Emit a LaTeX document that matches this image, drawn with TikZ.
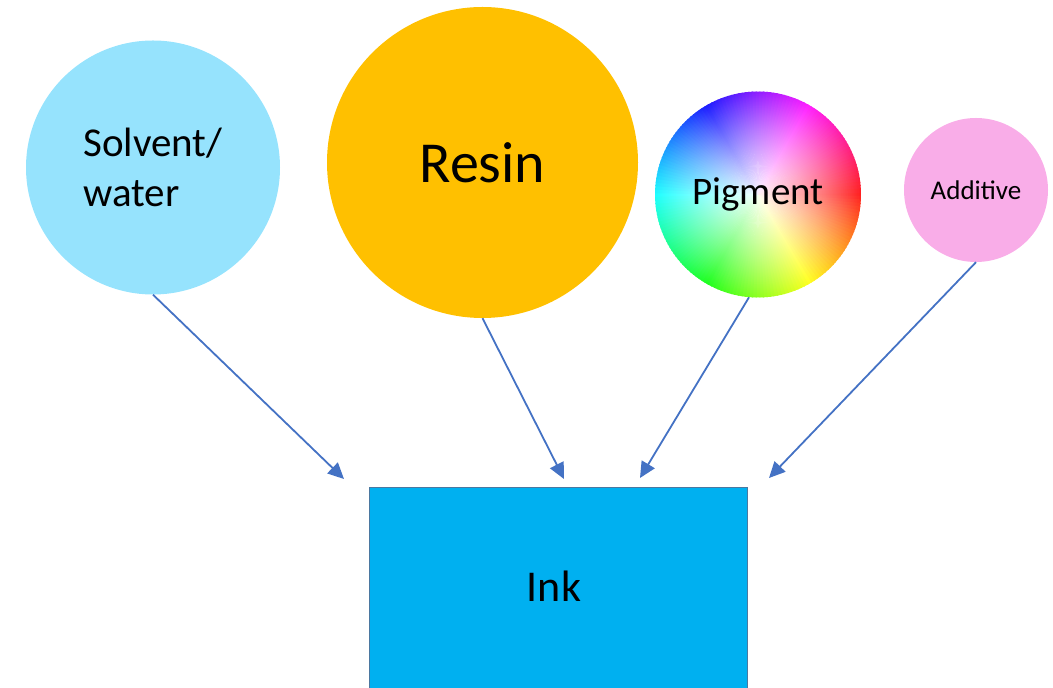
\documentclass[tikz,border=0pt]{standalone}
\usepackage{fontspec}
\setmainfont{Carlito}
\usetikzlibrary{arrows.meta,fadings}
\definecolor{solvc}{RGB}{150,227,253}
\definecolor{resinc}{RGB}{255,192,0}
\definecolor{addc}{RGB}{249,173,232}
\definecolor{inkc}{RGB}{0,176,240}
\definecolor{inkb}{RGB}{75,120,160}
\definecolor{arrc}{RGB}{68,114,196}
\tikzfading[name=pigfade, inner color=transparent!8, outer color=transparent!100]
\tikzset{
  ball/.style={circle, inner sep=0pt, text=black},
  feed/.style={draw=arrc, line width=1.8pt, -{Triangle[length=16pt,width=15pt]}},
}
\begin{document}
\begin{tikzpicture}[x=1pt,y=1pt]
\useasboundingbox (0,0) rectangle (1053,688);
% pigment colour wheel
\coordinate (pc) at (758,493.5);
\foreach \a in {0,2,...,358}{
  \definecolor{wc}{Hsb}{\a,1,1}
  \fill[wc] (pc) -- ++({-\a+1.3}:103) arc[start angle={-\a+1.3}, end angle={-\a-1.3}, radius=103] -- cycle;
}
\fill[white, path fading=pigfade] (pc) circle (103);
\begin{scope}
  \clip (pc) circle (103);
  \fill[white, path fading=pigfade, fill opacity=0.35] (pc) circle (160);
\end{scope}
% nodes
\node[ball, fill=solvc, minimum size=254pt, align=left, font=\fontsize{41}{50}\selectfont] (solv) at (153,520.5) {Solvent/\\water};
\node[ball, fill=resinc, minimum size=311pt, font=\fontsize{58}{70}\selectfont] (resin) at (482.5,525.5) {Resin};
\node[ball, minimum size=206pt, font=\fontsize{39}{47}\selectfont] (pig) at (pc) {Pigment};
\node[ball, fill=addc, minimum size=144pt, font=\fontsize{27}{32}\selectfont] (add) at (976,498) {Additive};
\node[rectangle, draw=inkb, line width=0.8pt, fill=inkc, minimum width=378pt, minimum height=240pt, inner sep=0pt] (ink) at (558,81) {};
\node[inner sep=0pt, font=\fontsize{44}{53}\selectfont] (inklabel) at (554,101.5) {Ink};
% arrow tips
\coordinate (t1) at (344,209);
\coordinate (t2) at (564,209);
\coordinate (t3) at (640,210);
\coordinate (t4) at (769,210);
\draw[feed] (solv.south) -- (t1);
\draw[feed] (resin.south) -- (t2);
\draw[feed] (pig.-95) -- (t3);
\draw[feed] (add.south) -- (t4);
\end{tikzpicture}
\end{document}
